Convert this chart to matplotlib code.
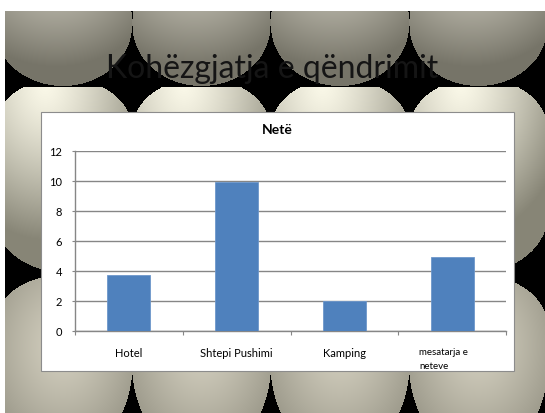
import numpy as np
import matplotlib.pyplot as plt
import matplotlib.transforms as mtransforms
from matplotlib.patches import Rectangle

plt.rcParams['font.family'] = ['Lato', 'DejaVu Sans']

# chart data
categories = ['Hotel', 'Shtepi Pushimi', 'Kamping', 'mesatarja e\nneteve']
nights = [3.7, 9.9, 2.0, 4.9]
yticks = [0, 2, 4, 6, 8, 10, 12]
chart_title = 'Netë'
slide_title = 'Kohëzgjatja e qëndrimit'

W, H = 545, 414
fig = plt.figure(figsize=(W/100, H/100), dpi=100)

# ---- slide background: rows of shaded spheres on black ----
yy, xx = np.mgrid[0:H, 0:W] + 0.5
bg = np.zeros((H, W, 3))

def paint(cx, rx, ctop, rtop, cbot, rbot, lit, dark, hx, hy, y0, y1):
    # rounded outline: elliptic cap on top and bottom, straight sides between
    t = np.maximum(0, np.maximum((ctop - yy)/rtop, (yy - cbot)/rbot))
    hw = rx*np.sqrt(np.clip(1 - t**2, 0, None))
    inside = (np.abs(xx - cx) <= hw) & (t <= 1) & (yy >= y0) & (yy < y1)
    nx = (xx - cx)/rx
    ny = (yy - 0.5*(ctop + cbot))/(0.5*(cbot - ctop) + 0.5*(rtop + rbot))
    d = np.clip(np.sqrt((nx - hx)**2 + (ny - hy)**2)/1.6, 0, 1)**1.3
    col = np.array(lit)[None, None, :]*(1 - d[..., None]) + np.array(dark)[None, None, :]*d[..., None]
    bg[inside] = col[inside]/255.

centers = 63 + 138.5*np.arange(-1, 5)
for cx in centers:
    paint(cx, 69, 20, 60, 27, 60, (198, 195, 182), (118, 116, 104), -0.1, -0.9, 12, 88)
for cx in centers:
    paint(cx, 69.5, 131, 52, 215, 58, (250, 248, 232), (135, 133, 118), -0.25, -0.9, 88, 272)
for cx in centers:
    paint(cx, 69.5, 328, 52, 365, 93, (210, 206, 190), (128, 126, 112), 0.0, 0.0, 274, H)

bg[:12, :] = 1.0
bg[:, :5] = 1.0

bax = fig.add_axes([0, 0, 1, 1], zorder=-1)
bax.imshow(bg, extent=[0, W, H, 0], interpolation='bilinear')
bax.set_xlim(0, W)
bax.set_ylim(H, 0)
bax.axis('off')

bax.text(272, 78, slide_title, ha='center', va='baseline', fontsize=23,
         color='#151515')

# white chart frame
bax.add_patch(Rectangle((41, 113), 514 - 41, 372 - 113, facecolor='white',
                        edgecolor='#8c8c8c', lw=0.8))
bax.text(277.5, 130, chart_title, ha='center', va='center', fontsize=10,
         fontweight='bold', color='black')

# ---- bar chart ----
ax = fig.add_axes([75/W, (H - 332)/H, (506 - 75)/W, (332 - 151.7)/H])
ax.patch.set_alpha(0)
x = np.arange(len(categories))
ax.bar(x, nights, width=0.4, color='#4F81BD', edgecolor='#6d97cb', lw=0.6, zorder=3)

ax.set_xlim(-0.5, len(categories) - 0.5)
ax.set_ylim(0, 12)
ax.set_yticks(yticks)
ax.yaxis.grid(True, color='#868686', lw=1)
ax.set_axisbelow(True)
for s in ['top', 'right']:
    ax.spines[s].set_visible(False)
for s in ['left', 'bottom']:
    ax.spines[s].set_color('#868686')
    ax.spines[s].set_linewidth(1)

ax.set_xticks(np.arange(len(categories) + 1) - 0.5)
ax.set_xticklabels([])
ax.set_xticks(x, categories, minor=True)
ax.tick_params(axis='x', which='major', length=3, color='#868686', direction='out')
ax.tick_params(axis='x', which='minor', length=0, pad=11.5, labelsize=8)
ax.tick_params(axis='y', length=2.5, color='#868686', pad=6.8, labelsize=8)

last = ax.get_xticklabels(minor=True)[-1]
last.set_fontsize(7)
last.set_ha('left')
last.set_linespacing(1.75)
last.set_transform(last.get_transform() +
                   mtransforms.ScaledTranslation(-0.33, 0, fig.dpi_scale_trans))

fig.savefig('out.png', dpi=100)
